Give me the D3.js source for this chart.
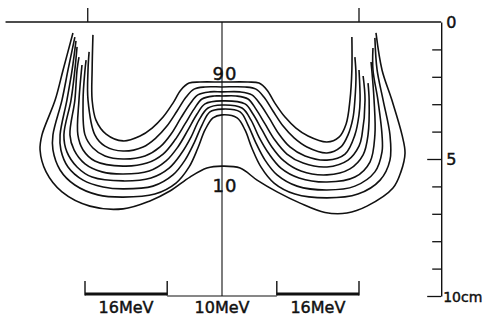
<!DOCTYPE html>
<html>
<head>
<meta charset="utf-8">
<script src="https://cdn.jsdelivr.net/npm/d3@7"></script>
<style>
  html, body { margin: 0; padding: 0; background: #fff; }
  svg { display: block; }
  text { font-family: "DejaVu Sans", sans-serif; fill: #111; stroke: #111; stroke-width: 0.45px; }
</style>
</head>
<body>
<div id="chart"></div>
<script>
// isodose contours, points are [lateral cm from centre, depth cm]
const levels = [90, 80, 70, 60, 50, 40, 30, 20, 10];

const iso90 = [[-4.71,0.47],[-4.74,1.75],[-4.74,2.85],[-4.60,3.58],[-4.23,4.09],[-3.61,4.34],[-2.99,4.16],[-2.55,3.87],[-2.15,3.47],[-1.79,2.96],[-1.50,2.48],[-1.20,2.23],[-0.80,2.19],[0,2.19],[0.95,2.19],[1.35,2.23],[1.64,2.48],[1.93,2.96],[2.30,3.47],[2.70,3.87],[3.14,4.16],[3.83,4.38],[4.27,4.20],[4.53,3.72],[4.67,2.85],[4.74,1.75],[4.74,0.55]];
const iso80 = [[-4.85,1.09],[-4.89,1.75],[-4.89,2.85],[-4.64,4.12],[-4.27,4.53],[-3.61,4.71],[-2.88,4.56],[-2.41,4.23],[-2.01,3.80],[-1.64,3.25],[-1.31,2.74],[-1.02,2.45],[-0.62,2.37],[0,2.37],[0.84,2.37],[1.24,2.45],[1.53,2.74],[1.86,3.25],[2.23,3.80],[2.63,4.23],[3.10,4.56],[3.83,4.78],[4.34,4.56],[4.60,4.12],[4.78,3.50],[4.85,2.85],[4.89,1.93],[4.85,1.28]];
const iso70 = [[-4.96,1.39],[-5.00,1.75],[-5.07,2.85],[-5.00,4.12],[-4.71,4.60],[-4.27,4.89],[-3.61,5.00],[-2.81,4.89],[-2.26,4.56],[-1.86,4.09],[-1.50,3.50],[-1.17,2.99],[-0.88,2.66],[-0.44,2.55],[0,2.55],[0.66,2.55],[1.09,2.66],[1.39,2.99],[1.72,3.50],[2.08,4.09],[2.48,4.56],[3.03,4.89],[3.83,5.04],[4.49,4.82],[4.85,4.12],[5.00,3.39],[5.04,2.85],[5.00,1.75]];
const iso60 = [[-5.11,1.57],[-5.22,2.85],[-5.26,4.12],[-5.07,4.67],[-4.64,5.07],[-3.61,5.26],[-2.74,5.15],[-2.15,4.82],[-1.72,4.31],[-1.35,3.72],[-1.02,3.18],[-0.73,2.81],[-0.29,2.70],[0,2.70],[0.51,2.70],[0.95,2.81],[1.24,3.18],[1.57,3.72],[1.93,4.31],[2.37,4.82],[2.96,5.15],[3.83,5.29],[4.60,5.04],[5.00,4.53],[5.11,4.12],[5.22,2.85],[5.15,1.97]];
const iso50 = [[-5.22,1.28],[-5.29,1.75],[-5.37,2.85],[-5.55,4.12],[-5.40,4.67],[-5.00,5.18],[-4.38,5.47],[-3.61,5.55],[-2.66,5.44],[-2.04,5.07],[-1.61,4.56],[-1.24,3.94],[-0.91,3.36],[-0.62,2.99],[0,2.88],[0.84,2.99],[1.13,3.36],[1.46,3.94],[1.82,4.56],[2.26,5.07],[2.88,5.44],[3.83,5.58],[4.67,5.36],[5.15,4.85],[5.33,4.12],[5.37,2.85],[5.33,2.23]];
const iso40 = [[-5.29,0.91],[-5.37,1.75],[-5.51,2.85],[-5.77,4.12],[-5.66,4.74],[-5.29,5.29],[-4.74,5.66],[-3.61,5.80],[-2.59,5.69],[-1.93,5.33],[-1.50,4.82],[-1.13,4.20],[-0.84,3.58],[-0.51,3.14],[0,3.03],[0.73,3.14],[1.06,3.58],[1.35,4.20],[1.72,4.82],[2.15,5.33],[2.81,5.69],[3.83,5.84],[4.85,5.66],[5.40,5.11],[5.58,4.12],[5.55,2.85],[5.44,1.46]];
const iso30 = [[-5.33,0.69],[-5.47,1.75],[-5.66,2.85],[-5.91,4.12],[-5.88,4.67],[-5.62,5.29],[-5.07,5.77],[-4.34,6.02],[-3.61,6.09],[-2.52,5.99],[-1.79,5.58],[-1.35,5.04],[-1.02,4.42],[-0.73,3.76],[-0.44,3.28],[0,3.18],[0.66,3.28],[0.95,3.76],[1.24,4.42],[1.57,5.04],[2.01,5.58],[2.74,5.99],[3.83,6.13],[4.85,5.99],[5.58,5.47],[5.84,4.74],[5.84,4.12],[5.69,2.85],[5.51,1.75],[5.51,0.95]];
const iso20 = [[-5.37,0.55],[-5.62,1.75],[-5.84,2.85],[-6.17,4.12],[-6.17,4.67],[-5.91,5.40],[-5.37,5.95],[-4.53,6.31],[-3.61,6.39],[-2.45,6.28],[-1.68,5.88],[-1.20,5.29],[-0.88,4.60],[-0.62,3.94],[-0.33,3.50],[0,3.39],[0.55,3.50],[0.84,3.94],[1.09,4.60],[1.42,5.29],[1.90,5.88],[2.66,6.28],[3.83,6.42],[4.96,6.28],[5.77,5.77],[6.13,5.04],[6.13,4.12],[5.88,2.85],[5.66,1.75],[5.58,0.58]];
const iso10 = [[-5.44,0.40],[-5.80,1.75],[-6.09,2.85],[-6.57,4.12],[-6.64,4.67],[-6.42,5.47],[-5.84,6.20],[-4.82,6.72],[-3.61,6.82],[-2.63,6.53],[-1.90,6.17],[-1.17,5.66],[-0.55,5.33],[0,5.26],[0.66,5.33],[1.28,5.77],[2.01,6.20],[2.85,6.61],[3.76,6.95],[4.56,6.97],[5.29,6.72],[6.24,6.06],[6.53,5.47],[6.68,4.78],[6.57,4.12],[6.20,2.85],[5.84,1.75],[5.62,0.40]];

const contours = [iso90, iso80, iso70, iso60, iso50, iso40, iso30, iso20, iso10];
const labelledLevels = [90, 10];

// fields on the surface
const fieldEnergy = [16, 10, 16];
const fieldFrom = [-5, -2, 2];
const fieldTo = [-2, 2, 5];
const surfaceMarks = [-4.9, 5.0];

// depth scale
const depthTicks = [0, 1, 2, 3, 4, 5, 6, 7, 8, 9, 10];
const depthLabelAt = [0, 5, 10];
const depthLabels = ["0", "5", "10cm"];

const width = 485, height = 321;
const pxPerCm = 27.4;

const x = d3.scaleLinear()
  .domain([-8, 8])
  .range([222 - 8 * pxPerCm, 222 + 8 * pxPerCm]);
const y = d3.scaleLinear()
  .domain([0, 10])
  .range([22, 22 + 10 * pxPerCm]);

const svg = d3.select("#chart").append("svg")
  .attr("width", width)
  .attr("height", height);

const ink = "#111";

// surface line and central axis
svg.append("line")
  .attr("x1", x(-7.9)).attr("x2", x(8))
  .attr("y1", y(0)).attr("y2", y(0))
  .attr("stroke", ink).attr("stroke-width", 1.4);

svg.append("line")
  .attr("x1", x(0)).attr("x2", x(0))
  .attr("y1", y(0)).attr("y2", y(10))
  .attr("stroke", ink).attr("stroke-width", 1.1);

svg.selectAll(".mark")
  .data(surfaceMarks)
  .enter().append("line")
  .attr("class", "mark")
  .attr("x1", d => x(d)).attr("x2", d => x(d))
  .attr("y1", y(0)).attr("y2", y(0) - 14)
  .attr("stroke", ink).attr("stroke-width", 1.3);

// isodose lines
const line = d3.line()
  .x(d => x(d[0]))
  .y(d => y(d[1]))
  .curve(d3.curveCatmullRom.alpha(0.5));

svg.selectAll(".iso")
  .data(contours)
  .enter().append("path")
  .attr("class", "iso")
  .attr("d", line)
  .attr("fill", "none")
  .attr("stroke", ink)
  .attr("stroke-width", 1.6);

// level labels, placed at each contour's centre point
labelledLevels.forEach(lv => {
  const c = contours[levels.indexOf(lv)];
  const mid = c.find(p => p[0] === 0);
  const top = lv === levels[0];
  svg.append("text")
    .attr("x", x(mid[0]) + 3)
    .attr("y", top ? y(mid[1]) - 2 : y(mid[1]) + 26)
    .attr("text-anchor", "middle")
    .style("font-size", "18px")
    .style("letter-spacing", "1px")
    .text(lv);
});

// field bars along the bottom
fieldEnergy.forEach((e, i) => {
  const big = e === 16;
  svg.append("line")
    .attr("x1", x(fieldFrom[i])).attr("x2", x(fieldTo[i]))
    .attr("y1", y(10) - (big ? 2 : 0)).attr("y2", y(10) - (big ? 2 : 0))
    .attr("stroke", ink).attr("stroke-width", big ? 3 : 1.2);
  if (big) {
    [fieldFrom[i], fieldTo[i]].forEach(v => {
      svg.append("line")
        .attr("x1", x(v)).attr("x2", x(v))
        .attr("y1", y(10) - 0.5).attr("y2", y(10) - 15)
        .attr("stroke", ink).attr("stroke-width", 1.4);
    });
  }
  svg.append("text")
    .attr("x", x((fieldFrom[i] + fieldTo[i]) / 2))
    .attr("y", y(10) + 17)
    .attr("text-anchor", "middle")
    .style("font-size", "16px")
    .text(e + "MeV");
});

// depth axis on the right
const axis = svg.append("g")
  .attr("transform", "translate(" + x(8) + ",0)")
  .call(d3.axisLeft(y).tickValues(depthTicks).tickSize(9).tickSizeOuter(0).tickFormat(""));

axis.select(".domain").attr("stroke", ink).attr("stroke-width", 1.4);
axis.selectAll(".tick line")
  .attr("stroke", ink).attr("stroke-width", 1.3)
  .attr("x2", d => (d === 5 || d === 10) ? -14 : (d === 0 ? 0 : -9));

svg.selectAll(".dlabel")
  .data(depthLabelAt)
  .enter().append("text")
  .attr("class", "dlabel")
  .attr("x", (d, i) => x(8) + (i === 2 ? 2 : 5))
  .attr("y", d => y(d) + 6)
  .style("font-size", (d, i) => i === 2 ? "14px" : "16px")
  .text((d, i) => depthLabels[i]);
</script>
</body>
</html>
